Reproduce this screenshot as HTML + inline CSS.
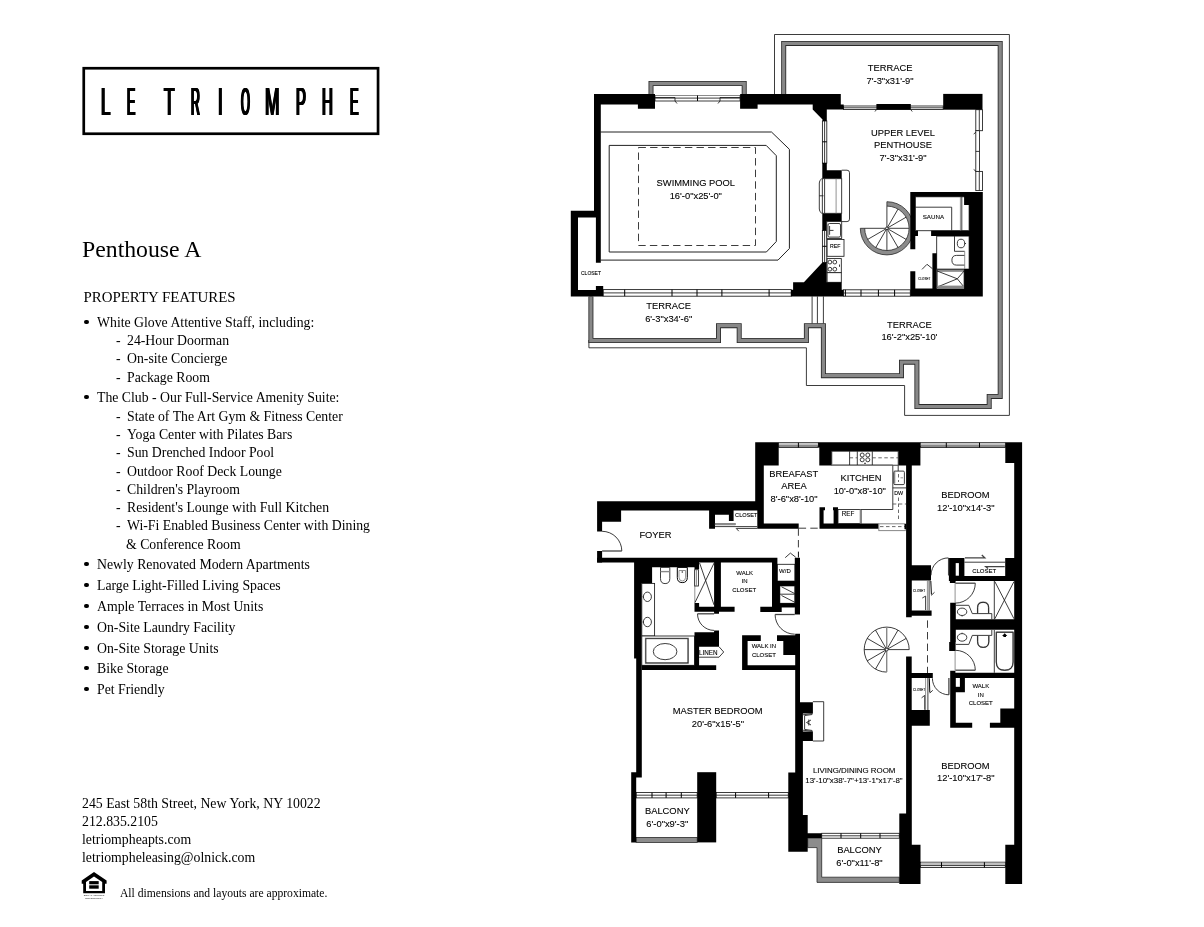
<!DOCTYPE html>
<html lang="en">
<head>
<meta charset="utf-8">
<title>Le Triomphe - Penthouse A</title>
<style>
html,body{margin:0;padding:0;background:#fff;}
body{width:1204px;height:927px;position:relative;overflow:hidden;filter:grayscale(1);font-family:"Liberation Serif",serif;color:#000;}
.abs{position:absolute;white-space:nowrap;}

#logotext span{position:absolute;top:76px;font-family:"Liberation Sans",sans-serif;font-size:39.6px;line-height:50px;height:50px;transform-origin:0 0;white-space:nowrap;}
h1{position:absolute;left:82px;top:234.5px;margin:0;font-weight:normal;font-size:23.75px;line-height:28px;white-space:nowrap;}
h2{position:absolute;left:83.5px;top:288.4px;margin:0;font-weight:normal;font-size:14.9px;line-height:18px;white-space:nowrap;}
ul{list-style:none;margin:0;padding:0;}
#features{position:absolute;left:0;top:0;font-size:13.77px;}
#features li{position:absolute;white-space:nowrap;line-height:18px;height:18px;}
#features li.b{left:97px;}
#features li.b::before{content:"";position:absolute;left:-13px;top:5.6px;width:4.5px;height:4.5px;border-radius:50%;background:#000;}
#features li.s{left:127px;}
#features li.s::before{content:"-";position:absolute;left:-11px;top:0;}
#features li.c{left:126px;}
#addr{position:absolute;left:82px;top:795.4px;font-size:13.8px;line-height:17.7px;white-space:nowrap;}
#note{position:absolute;left:120px;top:886.5px;font-size:11.6px;line-height:14px;white-space:nowrap;}
#plan{position:absolute;left:0;top:0;width:1204px;height:927px;}
#plan .w{fill:#000;}
#plan .wh{fill:#fff;}
#plan .l{fill:none;stroke:#1a1a1a;stroke-width:.85;}
#plan .lk{fill:none;stroke:#000;stroke-width:1;}
#plan .l2{fill:none;stroke:#222;stroke-width:1;}
#plan .lg{fill:none;stroke:#777;stroke-width:.8;}
#plan .lg2{fill:none;stroke:#888;stroke-width:1.4;}
#plan .win{fill:#fff;stroke:#1a1a1a;stroke-width:.85;}
#plan .dash{fill:none;stroke:#1a1a1a;stroke-width:.85;stroke-dasharray:7.4 4.2;}
#plan .ro{fill:none;stroke:#2a2a2a;stroke-linejoin:miter;stroke-linecap:butt;}
#plan .ri{fill:none;stroke:#888;stroke-linejoin:miter;stroke-linecap:butt;}
#plan .rg{fill:#8c8c8c;stroke:#2a2a2a;stroke-width:.8;}
#plan .gb{fill:#c0c0c0;stroke:none;}
#plan .gbar{fill:#999;stroke:#555;stroke-width:.4;}
#plan .wing{fill:#fff;stroke:#888;stroke-width:1;}
#plan .none{fill:none;stroke:none;}
#plan .dl{fill:none;stroke:#444;stroke-width:1.3;}
#plan .dash2{fill:none;stroke:#444;stroke-width:.8;stroke-dasharray:3.5 2.5;}
#plan .t{font-family:"Liberation Sans",sans-serif;fill:#000;stroke:#000;stroke-width:.1;}

</style>
</head>
<body>
<svg id="logo" class="abs" style="left:80px;top:64px" width="302" height="74" viewBox="80 64 302 74"><rect x="83.75" y="68.25" width="294.3" height="65.5" fill="none" stroke="#000" stroke-width="2.7"/></svg>
<div id="logotext" aria-label="LE TRIOMPHE"><span style="left:101.37px;transform:scaleX(0.424);text-shadow:2.01px 0 0 #000,-2.01px 0 0 #000,1.00px 0 0 #000,-1.00px 0 0 #000">L</span><span style="left:127.44px;transform:scaleX(0.312);text-shadow:2.72px 0 0 #000,-2.72px 0 0 #000,1.36px 0 0 #000,-1.36px 0 0 #000">E</span><span style="left:164.47px;transform:scaleX(0.433);text-shadow:1.96px 0 0 #000,-1.96px 0 0 #000,0.98px 0 0 #000,-0.98px 0 0 #000">T</span><span style="left:190.84px;transform:scaleX(0.311);text-shadow:2.73px 0 0 #000,-2.73px 0 0 #000,1.37px 0 0 #000,-1.37px 0 0 #000">R</span><span style="left:218.24px;transform:scaleX(0.420);text-shadow:2.02px 0 0 #000,-2.02px 0 0 #000,1.01px 0 0 #000,-1.01px 0 0 #000">I</span><span style="left:241.01px;transform:scaleX(0.288);text-shadow:2.95px 0 0 #000,-2.95px 0 0 #000,1.47px 0 0 #000,-1.47px 0 0 #000">O</span><span style="left:265.33px;transform:scaleX(0.438);text-shadow:1.94px 0 0 #000,-1.94px 0 0 #000,0.97px 0 0 #000,-0.97px 0 0 #000">M</span><span style="left:295.73px;transform:scaleX(0.375);text-shadow:2.27px 0 0 #000,-2.27px 0 0 #000,1.13px 0 0 #000,-1.13px 0 0 #000">P</span><span style="left:321.62px;transform:scaleX(0.379);text-shadow:2.24px 0 0 #000,-2.24px 0 0 #000,1.12px 0 0 #000,-1.12px 0 0 #000">H</span><span style="left:350.41px;transform:scaleX(0.321);text-shadow:2.64px 0 0 #000,-2.64px 0 0 #000,1.32px 0 0 #000,-1.32px 0 0 #000">E</span></div>
<h1>Penthouse A</h1>
<h2>PROPERTY FEATURES</h2>
<ul id="features">
<li class="b" style="top:314px">White Glove Attentive Staff, including:</li>
<li class="s" style="top:332px">24-Hour Doorman</li>
<li class="s" style="top:350px">On-site Concierge</li>
<li class="s" style="top:369px">Package Room</li>
<li class="b" style="top:389px">The Club - Our Full-Service Amenity Suite:</li>
<li class="s" style="top:408px">State of The Art Gym &amp; Fitness Center</li>
<li class="s" style="top:426px">Yoga Center with Pilates Bars</li>
<li class="s" style="top:444px">Sun Drenched Indoor Pool</li>
<li class="s" style="top:463px">Outdoor Roof Deck Lounge</li>
<li class="s" style="top:481px">Children's Playroom</li>
<li class="s" style="top:499px">Resident's Lounge with Full Kitchen</li>
<li class="s" style="top:517px">Wi-Fi Enabled Business Center with Dining</li>
<li class="c" style="top:536px">&amp; Conference Room</li>
<li class="b" style="top:556px">Newly Renovated Modern Apartments</li>
<li class="b" style="top:577px">Large Light-Filled Living Spaces</li>
<li class="b" style="top:598px">Ample Terraces in Most Units</li>
<li class="b" style="top:619px">On-Site Laundry Facility</li>
<li class="b" style="top:640px">On-Site Storage Units</li>
<li class="b" style="top:660px">Bike Storage</li>
<li class="b" style="top:681px">Pet Friendly</li>
</ul>
<div id="addr">245 East 58th Street, New York, NY 10022<br>212.835.2105<br>letriompheapts.com<br>letriompheleasing@olnick.com</div>
<svg id="eho" class="abs" style="left:78px;top:868px" width="34" height="36" viewBox="78 868 34 36" role="img" aria-label="Equal Housing Opportunity">
<path d="M94 872 L106.6 880.4 V883.8 H105 V893.2 H83.2 V883.8 H81.7 V880.4 Z M94 876.6 L86 881.9 V890.9 H102.2 V881.9 Z" fill="#000" fill-rule="evenodd"/>
<rect x="89.2" y="881.1" width="9.5" height="3.2" fill="#000"/>
<rect x="89.2" y="885.3" width="9.5" height="3.4" fill="#000"/>
<text x="94" y="896.3" font-family="Liberation Sans, sans-serif" font-size="2.5" text-anchor="middle" fill="#222">EQUAL HOUSING</text>
<text x="94" y="899.2" font-family="Liberation Sans, sans-serif" font-size="2.5" text-anchor="middle" fill="#222">OPPORTUNITY</text>
</svg>
<div id="note">All dimensions and layouts are approximate.</div>
<svg id="plan" viewBox="0 0 1204 927">
<!--PLAN-->
<g id="upper">
<path class="l" d="M774.5 94.0 L774.5 34.5 L1009.4 34.5 L1009.4 415.4 L904.6 415.4 L904.6 385.5 L806.4 385.5 L806.4 347.8 L588.9 347.8 L588.9 340.0"/>
<path class="ro" d="M783.7 94.0 L783.7 43.4 L1000.2 43.4 L1000.2 396.4 L989.2 396.4 L989.2 406.6 L916.9 406.6 L916.9 362.2 L901.5 362.2 L901.5 375.7 L823.4 375.7 L823.4 325.7 L806.4 325.7 L806.4 340.5 L739.2 340.5 L739.2 325.7 L718.5 325.7 L718.5 340.5 L590.9 340.5 L590.9 296.5" stroke-width="5.0"/>
<path class="ri" d="M783.7 94.0 L783.7 43.4 L1000.2 43.4 L1000.2 396.4 L989.2 396.4 L989.2 406.6 L916.9 406.6 L916.9 362.2 L901.5 362.2 L901.5 375.7 L823.4 375.7 L823.4 325.7 L806.4 325.7 L806.4 340.5 L739.2 340.5 L739.2 325.7 L718.5 325.7 L718.5 340.5 L590.9 340.5 L590.9 296.5" stroke-width="3.3"/>
<path class="ro" d="M651.0 94.0 L651.0 83.5 L744.2 83.5 L744.2 94.0" stroke-width="5.0"/>
<path class="ri" d="M651.0 94.0 L651.0 83.5 L744.2 83.5 L744.2 94.0" stroke-width="3.3"/>
<line class="l" x1="812.1" y1="296.4" x2="812.1" y2="323.4"/>
<line class="l" x1="817.4" y1="296.4" x2="817.4" y2="323.4"/>
<line class="l" x1="823.4" y1="296.4" x2="823.4" y2="323.4"/>
<path class="l2" d="M600.6 132.0 L771.5 132.0 L789.4 149.3 L789.4 248.5 L778.0 260.1 L600.6 260.1"/>
<path class="l2" d="M609.2 145.4 L766.2 145.4 L776.3 155.7 L776.3 241.5 L766.4 252.0 L609.2 252.0 Z"/>
<rect class="dash" x="638.5" y="147.5" width="117" height="98"/>
<text class="t" x="695.8" y="186.4" font-size="9.35" text-anchor="middle">SWIMMING POOL</text>
<text class="t" x="695.8" y="198.9" font-size="9.35" text-anchor="middle">16'-0&quot;x25'-0&quot;</text>
<rect class="win" x="655.0" y="95.2" width="85.1" height="5.8"/>
<line class="l" x1="655.0" y1="98.1" x2="740.1" y2="98.1"/>
<line class="lk" x1="697.5" y1="95.2" x2="697.5" y2="101.0"/>
<path class="l" d="M655.0 97.5 L675.0 97.5 L675.0 101.0 L677.0 103.5"/>
<path class="l" d="M740.1 97.5 L720.0 97.5 L720.0 101.0 L718.0 103.5"/>
<rect class="win" x="822.4" y="121.0" width="4.4" height="42.1"/>
<line class="l" x1="824.6" y1="121.0" x2="824.6" y2="163.1"/>
<line class="lk" x1="822.4" y1="141.8" x2="826.8" y2="141.8"/>
<rect class="win" x="822.4" y="230.4" width="4.4" height="32.0"/>
<line class="l" x1="824.6" y1="230.4" x2="824.6" y2="262.4"/>
<line class="lk" x1="822.4" y1="246.3" x2="826.8" y2="246.3"/>
<rect class="win" x="603.2" y="289.6" width="188.0" height="6.6"/>
<line class="l" x1="603.2" y1="292.9" x2="791.2" y2="292.9"/>
<line class="lk" x1="624.7" y1="289.6" x2="624.7" y2="296.2"/>
<line class="lk" x1="672.0" y1="289.6" x2="672.0" y2="296.2"/>
<line class="lk" x1="721.9" y1="289.6" x2="721.9" y2="296.2"/>
<line class="lk" x1="769.1" y1="289.6" x2="769.1" y2="296.2"/>
<line class="lk" x1="697.0" y1="289.6" x2="697.0" y2="296.2"/>
<rect class="win" x="843.5" y="289.8" width="66.8" height="6.4"/>
<line class="l" x1="843.5" y1="293.0" x2="910.3" y2="293.0"/>
<line class="lk" x1="845.4" y1="289.8" x2="845.4" y2="296.2"/>
<line class="lk" x1="861.0" y1="289.8" x2="861.0" y2="296.2"/>
<line class="lk" x1="878.4" y1="289.8" x2="878.4" y2="296.2"/>
<line class="lk" x1="894.6" y1="289.8" x2="894.6" y2="296.2"/>
<rect class="win" x="843.5" y="106.0" width="99.7" height="3.5"/>
<line class="l" x1="843.5" y1="107.8" x2="943.2" y2="107.8"/>
<rect class="win" x="975.8" y="109.7" width="6.7" height="21.0"/>
<line class="l" x1="979.3" y1="109.7" x2="979.3" y2="130.7"/>
<rect class="win" x="975.8" y="130.7" width="3.7" height="40.7"/>
<line class="l" x1="975.8" y1="151.4" x2="979.5" y2="151.4"/>
<rect class="win" x="975.8" y="171.4" width="6.7" height="19.2"/>
<line class="l" x1="979.3" y1="171.4" x2="979.3" y2="190.6"/>
<path class="l" d="M973.7 134.0 L976.0 132.2"/>
<path class="l" d="M973.7 169.5 L976.0 171.2"/>
<polygon class="w" points="594.0,93.9 840.8,93.9 840.8,104.4 843.7,104.4 843.7,109.6 826.8,109.6 826.8,121.0 822.5,121.0 822.5,119.6 812.7,109.6 812.7,104.4 757.6,104.4 757.6,108.7 740.1,108.7 740.1,93.9 655.0,93.9 655.0,108.7 637.9,108.7 637.9,104.5 600.8,104.5 600.8,262.8 595.9,262.8 595.9,217.5 578.0,217.5 578.0,290.0 595.9,290.0 595.9,286.0 603.2,286.0 603.2,296.5 570.8,296.5 570.8,210.8 594.0,210.8"/>
<rect class="wh" x="655.0" y="93.9" width="85.1" height="1.3"/>
<polygon class="w" points="822.3,163.1 826.8,163.1 826.8,170.2 841.7,170.2 841.7,178.7 822.3,178.7"/>
<polygon class="w" points="822.3,213.3 841.7,213.3 841.7,221.6 826.8,221.6 826.8,230.4 822.3,230.4"/>
<rect class="win" x="822.3" y="178.7" width="19.4" height="34.6"/>
<line class="l" x1="824.6" y1="178.7" x2="824.6" y2="213.3"/>
<line class="lg" x1="836.1" y1="178.7" x2="836.1" y2="213.3"/>
<path class="l" d="M821.8 178.7 Q819.3 180 819.3 183 L819.3 209 Q819.3 212 821.8 213.3"/>
<line class="l" x1="819.3" y1="195.8" x2="823.5" y2="195.8"/>
<path class="l" d="M841.7 170.2 H847 Q849.5 170.2 849.5 172.7 V219.1 Q849.5 221.6 847 221.6 H841.7"/>
<rect class="win" x="826.8" y="221.6" width="14.9" height="16.8"/>
<rect class="win" x="828" y="223.5" width="12.5" height="13.6" rx="1.5"/>
<path class="l" d="M833.5 230.4 L829.6 230.4"/>
<line class="l" x1="829.6" y1="226.0" x2="829.6" y2="234.8"/>
<rect class="win" x="827.1" y="239.5" width="16.9" height="16.8"/>
<text class="t" x="835.3" y="248.3" font-size="5.20" text-anchor="middle">REF</text>
<rect class="win" x="827.1" y="258.6" width="14.2" height="14.1"/>
<circle class="l" cx="829.9" cy="262.1" r="1.9"/>
<circle class="l" cx="834.8" cy="262.1" r="1.9"/>
<circle class="l" cx="829.9" cy="269.2" r="1.9"/>
<circle class="l" cx="834.8" cy="269.2" r="1.9"/>
<line class="l" x1="839.5" y1="264.5" x2="839.5" y2="266.8"/>
<rect class="win" x="827.1" y="272.7" width="14.2" height="9.6"/>
<polygon class="w" points="791.0,296.4 791.0,289.8 793.1,289.8 793.1,282.3 803.9,282.3 822.4,262.4 826.7,262.4 826.7,282.3 841.7,282.3 841.7,289.8 843.5,289.8 843.5,296.4"/>
<rect class="w" x="876.4" y="104.0" width="34.4" height="5.7"/>
<path class="l" d="M876.4 109.7 L875.0 111.5"/>
<path class="l" d="M910.8 109.7 L912.2 111.5"/>
<rect class="w" x="943.2" y="93.9" width="39.3" height="15.8"/>
<path class="rg" d="M886.9 201.7 A26.6 26.6 0 1 1 860.3 228.3 L864.7 228.3 A22.2 22.2 0 1 0 886.9 206.1 Z"/>
<line class="l" x1="886.9" y1="228.3" x2="886.9" y2="206.1"/>
<line class="l" x1="886.9" y1="228.3" x2="898.0" y2="209.1"/>
<line class="l" x1="886.9" y1="228.3" x2="906.1" y2="217.2"/>
<line class="l" x1="886.9" y1="228.3" x2="909.1" y2="228.3"/>
<line class="l" x1="886.9" y1="228.3" x2="906.1" y2="239.4"/>
<line class="l" x1="886.9" y1="228.3" x2="898.0" y2="247.5"/>
<line class="l" x1="886.9" y1="228.3" x2="886.9" y2="250.5"/>
<line class="l" x1="886.9" y1="228.3" x2="875.8" y2="247.5"/>
<line class="l" x1="886.9" y1="228.3" x2="867.7" y2="239.4"/>
<line class="l" x1="886.9" y1="228.3" x2="864.7" y2="228.3"/>
<circle class="win" cx="886.9" cy="228.3" r="1.3"/>
<rect class="win" x="915.3" y="196.8" width="53.8" height="33.7"/>
<path class="l" d="M915.3 207.2 L951.7 207.2 L951.7 230.5"/>
<line class="lg" x1="960.4" y1="196.8" x2="960.4" y2="230.5"/>
<line class="l" x1="961.8" y1="196.8" x2="961.8" y2="230.5"/>
<text class="t" x="933.4" y="218.7" font-size="6.20" text-anchor="middle">SAUNA</text>
<rect class="win" x="936.7" y="236.1" width="32.4" height="33.0"/>
<path class="l" d="M954.5 236.1 L954.5 251.3 L964.7 251.3"/>
<ellipse class="l" cx="961" cy="243.5" rx="3.7" ry="4.3"/>
<line class="l" x1="964.6" y1="243.5" x2="966.0" y2="243.5"/>
<path class="l" d="M964.7 255.4 H956.5 Q951.9 255.4 951.9 260.2 Q951.9 265.1 956.5 265.1 H964.7"/>
<line class="lg" x1="964.7" y1="251.3" x2="964.7" y2="269.1"/>
<rect class="win" x="937.1" y="269.7" width="27.0" height="17.4"/>
<line class="l" x1="937.1" y1="271.0" x2="964.1" y2="271.0"/>
<line class="l" x1="957.3" y1="278.8" x2="937.1" y2="271.0"/>
<line class="l" x1="957.3" y1="278.8" x2="964.1" y2="271.0"/>
<line class="l" x1="957.3" y1="278.8" x2="937.1" y2="287.1"/>
<line class="l" x1="957.3" y1="278.8" x2="964.1" y2="287.1"/>
<line class="lg2" x1="937.1" y1="286.3" x2="964.1" y2="286.3"/>
<line class="lg" x1="918.0" y1="230.8" x2="931.1" y2="230.8"/>
<path class="l" d="M922.0 269.4 L927.0 264.3 L932.4 268.7"/>
<text class="t" x="924.3" y="279.8" font-size="3.00" text-anchor="middle">CLOSET</text>
<polygon class="w" points="910.3,192.1 982.8,192.1 982.8,296.5 910.3,296.5 910.3,271.3 915.3,271.3 915.3,288.4 932.4,288.4 932.4,253.3 936.7,253.3 936.7,288.4 964.1,288.4 964.1,269.1 969.1,269.1 969.1,236.1 931.1,236.1 931.1,231.1 969.1,231.1 969.1,204.9 964.1,204.9 964.1,196.8 915.3,196.8 915.3,231.1 918.0,231.1 918.0,236.0 915.3,236.0 915.3,249.2 910.3,249.2"/>
<text class="t" x="890.1" y="71.3" font-size="9.35" text-anchor="middle">TERRACE</text>
<text class="t" x="890.1" y="83.8" font-size="9.35" text-anchor="middle">7'-3&quot;x31'-9&quot;</text>
<text class="t" x="903.0" y="136.1" font-size="9.35" text-anchor="middle">UPPER LEVEL</text>
<text class="t" x="903.0" y="148.3" font-size="9.35" text-anchor="middle">PENTHOUSE</text>
<text class="t" x="903.0" y="160.5" font-size="9.35" text-anchor="middle">7'-3&quot;x31'-9&quot;</text>
<text class="t" x="668.7" y="309.4" font-size="9.35" text-anchor="middle">TERRACE</text>
<text class="t" x="668.7" y="322.1" font-size="9.35" text-anchor="middle">6'-3&quot;x34'-6&quot;</text>
<text class="t" x="909.4" y="328.0" font-size="9.35" text-anchor="middle">TERRACE</text>
<text class="t" x="909.4" y="340.4" font-size="9.35" text-anchor="middle">16'-2&quot;x25'-10'</text>
<text class="t" x="591.0" y="274.8" font-size="5.00" text-anchor="middle">CLOSET</text>
</g>
<g id="lower">
<rect class="win" x="778.7" y="442.7" width="39.4" height="4.8"/>
<rect class="gb" x="778.7" y="443.2" width="39.4" height="2.7"/>
<line class="l" x1="778.7" y1="446.1" x2="818.1" y2="446.1"/>
<line class="lk" x1="798.4" y1="442.7" x2="798.4" y2="447.5"/>
<rect class="win" x="920.5" y="442.7" width="84.8" height="4.8"/>
<rect class="gb" x="920.5" y="443.2" width="84.8" height="2.7"/>
<line class="l" x1="920.5" y1="446.1" x2="1005.3" y2="446.1"/>
<line class="lk" x1="946.3" y1="442.7" x2="946.3" y2="447.5"/>
<line class="lk" x1="979.5" y1="442.7" x2="979.5" y2="447.5"/>
<rect class="win" x="636.2" y="792.5" width="61.0" height="5.4"/>
<line class="l" x1="636.2" y1="795.2" x2="697.2" y2="795.2"/>
<line class="lk" x1="652.0" y1="792.5" x2="652.0" y2="797.9"/>
<line class="lk" x1="666.1" y1="792.5" x2="666.1" y2="797.9"/>
<line class="lk" x1="681.3" y1="792.5" x2="681.3" y2="797.9"/>
<rect class="win" x="716.2" y="792.5" width="72.1" height="5.4"/>
<line class="l" x1="716.2" y1="795.2" x2="788.3" y2="795.2"/>
<line class="lk" x1="735.6" y1="792.5" x2="735.6" y2="797.9"/>
<line class="lk" x1="768.6" y1="792.5" x2="768.6" y2="797.9"/>
<rect class="win" x="821.7" y="833.3" width="77.6" height="4.9"/>
<line class="l" x1="821.7" y1="835.8" x2="899.3" y2="835.8"/>
<line class="lk" x1="841.0" y1="833.3" x2="841.0" y2="838.2"/>
<line class="lk" x1="860.7" y1="833.3" x2="860.7" y2="838.2"/>
<line class="lk" x1="880.0" y1="833.3" x2="880.0" y2="838.2"/>
<rect class="win" x="920.5" y="862.2" width="84.8" height="5.3"/>
<rect class="gb" x="920.5" y="862.7" width="84.8" height="2.7"/>
<line class="l" x1="920.5" y1="865.6" x2="1005.3" y2="865.6"/>
<line class="lk" x1="941.5" y1="862.2" x2="941.5" y2="867.5"/>
<line class="lk" x1="984.4" y1="862.2" x2="984.4" y2="867.5"/>
<rect class="rg" x="636.2" y="837.4" width="61.0" height="5.0"/>
<polygon class="rg" points="807.7,838.0 821.7,838.0 821.7,877.2 899.3,877.2 899.3,882.4 817.0,882.4 817.0,847.6 807.7,847.6"/>
<polygon class="w" points="597.1,501.3 755.2,501.3 755.2,442.2 778.7,442.2 778.7,465.5 763.8,465.5 763.8,523.5 798.7,523.5 798.7,528.7 757.3,528.7 757.3,510.6 733.6,510.6 733.6,521.0 728.9,521.0 728.9,514.7 715.0,514.7 715.0,528.7 709.1,528.7 709.1,510.6 621.1,510.6 621.1,521.8 602.1,521.8 602.1,531.4 597.1,531.4"/>
<rect class="w" x="597.1" y="551.0" width="5.0" height="11.5"/>
<path class="l" d="M621.8 551.0 A19.7 19.7 0 0 0 602.1 531.3"/>
<line class="dl" x1="602.1" y1="551.0" x2="621.8" y2="551.0"/>
<text class="t" x="655.5" y="537.8" font-size="9.35" text-anchor="middle">FOYER</text>
<rect class="gbar" x="715.0" y="523.2" width="20.5" height="1.8"/>
<line class="l" x1="715.0" y1="526.6" x2="757.3" y2="526.6"/>
<line class="l" x1="736.5" y1="528.4" x2="757.3" y2="528.4"/>
<path class="l" d="M736.0 528.2 L738.8 531.2"/>
<text class="t" x="746.3" y="516.7" font-size="5.60" text-anchor="middle">CLOSET</text>
<polygon class="w" points="597.1,557.7 777.4,557.7 777.4,581.1 794.8,581.1 794.8,557.7 800.0,557.7 800.0,614.5 794.8,614.5 794.8,607.3 781.7,607.3 781.7,611.9 760.3,611.9 760.3,606.7 772.0,606.7 772.0,562.5 720.9,562.5 720.9,606.7 734.6,606.7 734.6,611.7 719.0,611.7 719.0,613.8 714.1,613.8 714.1,611.7 694.5,611.7 694.5,602.9 699.1,602.9 699.1,606.7 714.1,606.7 714.1,562.5 699.1,562.5 699.1,569.3 694.5,569.3 694.5,567.2 652.1,567.2 652.1,583.4 641.8,583.4 641.8,777.6 636.2,777.6 636.2,842.4 631.2,842.4 631.2,772.2 636.2,772.2 636.2,658.4 634.1,658.4 634.1,562.5 597.1,562.5"/>
<rect class="win" x="777.4" y="564.3" width="17.4" height="16.8"/>
<text class="t" x="784.9" y="572.7" font-size="6.00" text-anchor="middle">W/D</text>
<rect class="win" x="779.8" y="585.9" width="15.0" height="17.4"/>
<line class="l" x1="779.8" y1="594.2" x2="794.8" y2="594.2"/>
<line class="l" x1="781.5" y1="586.8" x2="794.8" y2="593.6"/>
<line class="l" x1="781.5" y1="595.5" x2="794.8" y2="602.3"/>
<rect class="w" x="777.4" y="581.1" width="17.4" height="4.8"/>
<rect class="w" x="777.4" y="603.3" width="17.4" height="4.0"/>
<rect class="w" x="772.0" y="581.1" width="7.8" height="25.6"/>
<path class="l" d="M785.2 557.7 L790.4 553.1 L795.7 557.2"/>
<line class="l" x1="798.5" y1="551.9" x2="798.5" y2="557.6"/>
<path class="l" d="M697.5 613.8 A16.6 16.6 0 0 0 714.1 630.4"/>
<line class="dl" x1="714.1" y1="613.8" x2="697.5" y2="613.8"/>
<path class="l" d="M775.1 614.5 A19.7 19.7 0 0 0 794.8 634.2"/>
<line class="dl" x1="794.8" y1="614.5" x2="775.1" y2="614.5"/>
<rect class="win" x="641.8" y="583.4" width="12.8" height="52.6"/>
<ellipse class="l" cx="647.4" cy="596.8" rx="4" ry="4.7"/>
<line class="l" x1="642.6" y1="596.8" x2="643.8" y2="596.8"/>
<ellipse class="l" cx="647.4" cy="622.0" rx="4" ry="4.7"/>
<line class="l" x1="642.6" y1="622.0" x2="643.8" y2="622.0"/>
<path class="win" d="M660.5 567.4 H669.8 V578.5 Q669.8 583.6 665.1 583.6 Q660.5 583.6 660.5 578.5 Z"/>
<line class="lg2" x1="660.5" y1="571.6" x2="669.8" y2="571.6"/>
<path class="lk" d="M677.3 567.4 H687.3 V577.5 Q687.3 582.6 682.3 582.6 Q677.3 582.6 677.3 577.5 Z"/>
<path class="lg" d="M679 570.5 H685.6 V577.2 Q685.6 581 682.3 581 Q679 581 679 577.2 Z"/>
<circle cx="682.3" cy="572" r="0.8" fill="#333"/>
<rect class="none" x="694.5" y="562.5" width="19.6" height="44.2"/>
<line class="lg" x1="694.8" y1="569.3" x2="694.8" y2="602.9"/>
<line class="l" x1="699.6" y1="563.0" x2="714.1" y2="605.0"/>
<line class="l" x1="714.1" y1="563.0" x2="695.0" y2="602.5"/>
<rect class="win" x="694.7" y="569.7" width="3.7" height="16.3"/>
<line class="lg" x1="696.5" y1="569.7" x2="696.5" y2="586.0"/>
<text class="t" x="744.6" y="575.1" font-size="6.00" text-anchor="middle">WALK</text>
<text class="t" x="744.6" y="583.2" font-size="6.00" text-anchor="middle">IN</text>
<text class="t" x="744.2" y="591.7" font-size="6.00" text-anchor="middle">CLOSET</text>
<rect class="win" x="641.8" y="636.0" width="52.7" height="29.3"/>
<rect class="lg" x="645.3" y="638.1" width="43.2" height="25.3"/>
<rect class="l" x="645.9" y="638.7" width="42.0" height="24.1"/>
<ellipse class="l" cx="665.1" cy="651.6" rx="11.8" ry="8.1"/>
<polygon class="w" points="694.5,632.2 714.1,632.2 714.1,630.4 719.0,630.4 719.0,646.7 699.1,646.7 699.1,665.3 716.2,665.3 716.2,670.1 641.8,670.1 641.8,665.3 694.5,665.3"/>
<path class="l" d="M719.0 646.7 L723.7 652.0 L719.0 657.2 L699.1 657.2"/>
<text class="t" x="708.3" y="654.8" font-size="6.30" text-anchor="middle">LINEN</text>
<polygon class="w" points="742.1,635.2 760.8,635.2 760.8,641.0 747.6,641.0 747.6,665.3 795.2,665.3 795.2,654.9 783.3,654.9 783.3,641.0 777.0,641.0 777.0,635.2 795.2,635.2 795.2,633.7 800.0,633.7 800.0,702.3 812.9,702.3 812.9,713.5 802.9,713.5 802.9,731.5 812.9,731.5 812.9,741.0 802.9,741.0 802.9,815.0 807.7,815.0 807.7,833.2 821.7,833.2 821.7,838.0 807.7,838.0 807.7,851.7 788.3,851.7 788.3,772.4 795.2,772.4 795.2,670.1 742.1,670.1"/>
<text class="t" x="763.9" y="648.4" font-size="6.00" text-anchor="middle">WALK IN</text>
<text class="t" x="763.9" y="656.5" font-size="6.00" text-anchor="middle">CLOSET</text>
<path class="l" d="M812.9 701.7 L823.7 701.7 L823.7 741.0 L812.9 741.0"/>
<path class="l" d="M802.9 714.8 L812.5 713.6"/>
<path class="l" d="M802.9 730.2 L812.5 731.4"/>
<path class="l" d="M812.3 714.5 L804.6 715.6 L804.6 729.4 L812.3 730.5"/>
<path class="l" d="M811.0 720.0 L806.5 722.5 L811.0 725.0"/>
<line class="l" x1="808.8" y1="719.5" x2="808.8" y2="725.5"/>
<rect class="w" x="697.2" y="772.2" width="19.0" height="70.2"/>
<text class="t" x="717.6" y="713.9" font-size="9.35" text-anchor="middle">MASTER BEDROOM</text>
<text class="t" x="717.9" y="726.6" font-size="9.35" text-anchor="middle">20'-6&quot;x15'-5&quot;</text>
<text class="t" x="667.3" y="814.0" font-size="9.35" text-anchor="middle">BALCONY</text>
<text class="t" x="667.3" y="826.7" font-size="9.35" text-anchor="middle">6'-0&quot;x9'-3&quot;</text>
<text class="t" x="859.5" y="853.0" font-size="9.35" text-anchor="middle">BALCONY</text>
<text class="t" x="859.5" y="866.1" font-size="9.35" text-anchor="middle">6'-0&quot;x11'-8&quot;</text>
<text class="t" x="854.2" y="772.8" font-size="7.90" text-anchor="middle">LIVING/DINING ROOM</text>
<text class="t" x="854.0" y="783.2" font-size="7.90" text-anchor="middle">13'-10&quot;x38'-7&quot;+13'-1&quot;x17'-8&quot;</text>
<polygon class="w" points="818.1,442.2 920.4,442.2 920.4,465.5 911.8,465.5 911.8,565.2 931.0,565.2 931.0,580.5 911.8,580.5 911.8,610.4 931.6,610.4 931.6,615.8 911.7,615.8 911.7,617.3 906.1,617.3 906.1,465.5 898.2,465.5 898.2,451.2 831.8,451.2 831.8,465.5 819.3,465.5 819.3,447.5 818.1,447.5"/>
<rect class="win" x="831.8" y="451.2" width="66.4" height="14.0"/>
<line class="lg2" x1="831.8" y1="464.9" x2="892.8" y2="464.9"/>
<line class="l" x1="849.6" y1="451.2" x2="849.6" y2="465.0"/>
<line class="l" x1="857.3" y1="451.2" x2="857.3" y2="465.0"/>
<line class="l" x1="872.3" y1="451.2" x2="872.3" y2="465.0"/>
<circle class="l" cx="862.2" cy="455.0" r="2"/>
<circle class="l" cx="867.8" cy="455.0" r="2"/>
<circle class="l" cx="862.2" cy="459.8" r="2"/>
<circle class="l" cx="867.8" cy="459.8" r="2"/>
<line class="l" x1="864.0" y1="463.3" x2="866.0" y2="463.3"/>
<line class="dash2" x1="849.6" y1="457.8" x2="857.3" y2="457.8"/>
<line class="dash2" x1="872.3" y1="457.8" x2="898.2" y2="457.8"/>
<path class="l" d="M892.8 465.5 L892.8 509.5 L861.1 509.5"/>
<line class="l" x1="898.2" y1="465.5" x2="898.2" y2="471.0"/>
<rect class="win" x="893.7" y="471.1" width="10.7" height="13.5" rx="1.2"/>
<line class="lg2" x1="894.6" y1="472.0" x2="894.6" y2="483.7"/>
<line class="dash2" x1="898.5" y1="474" x2="898.5" y2="482"/>
<line class="lg" x1="900.5" y1="477.8" x2="903.0" y2="477.8"/>
<path class="l" d="M892.8 487.9 L906.1 487.9"/>
<text class="t" x="898.7" y="495.3" font-size="5.40" text-anchor="middle">DW</text>
<line class="dash2" x1="892.8" y1="504" x2="906.1" y2="504"/>
<line class="dash2" x1="898.5" y1="497.5" x2="898.5" y2="519"/>
<polygon class="w" points="819.5,507.3 825.0,507.3 825.0,510.2 823.6,510.2 823.6,523.5 833.6,523.5 833.6,510.2 833.0,510.2 833.0,507.3 838.0,507.3 838.0,523.5 878.8,523.5 878.8,528.7 819.5,528.7"/>
<rect class="win" x="838.0" y="509.5" width="23.1" height="14.0"/>
<line class="lg2" x1="860.4" y1="509.5" x2="860.4" y2="523.5"/>
<text class="t" x="848.0" y="515.7" font-size="6.30" text-anchor="middle">REF</text>
<rect class="wing" x="878.8" y="523.8" width="26.5" height="6.8"/>
<line class="dash2" x1="880" y1="526.6" x2="905" y2="526.6"/>
<rect class="w" x="904.5" y="524.0" width="2.0" height="5.0"/>
<line class="dash" x1="798.7" y1="528.2" x2="819.3" y2="528.2"/>
<line class="dash" x1="798.4" y1="528.4" x2="798.4" y2="557"/>
<line class="dash" x1="927.5" y1="620.4" x2="927.5" y2="673"/>
<text class="t" x="793.7" y="476.8" font-size="9.35" text-anchor="middle">BREAFAST</text>
<text class="t" x="794.1" y="489.0" font-size="9.35" text-anchor="middle">AREA</text>
<text class="t" x="794.1" y="501.7" font-size="9.35" text-anchor="middle">8'-6&quot;x8'-10&quot;</text>
<text class="t" x="861.1" y="480.9" font-size="9.35" text-anchor="middle">KITCHEN</text>
<text class="t" x="859.8" y="493.6" font-size="9.35" text-anchor="middle">10'-0&quot;x8'-10&quot;</text>
<text class="t" x="965.4" y="497.7" font-size="9.35" text-anchor="middle">BEDROOM</text>
<text class="t" x="965.8" y="510.5" font-size="9.35" text-anchor="middle">12'-10&quot;x14'-3&quot;</text>
<text class="t" x="965.4" y="768.9" font-size="9.35" text-anchor="middle">BEDROOM</text>
<text class="t" x="965.8" y="781.4" font-size="9.35" text-anchor="middle">12'-10&quot;x17'-8&quot;</text>
<polygon class="w" points="1005.3,442.2 1022.1,442.2 1022.1,884.1 1005.3,884.1 1005.3,844.8 1014.2,844.8 1014.2,727.8 989.9,727.8 989.9,722.8 1000.3,722.8 1000.3,708.5 1014.2,708.5 1014.2,677.9 964.9,677.9 964.9,692.2 955.8,692.2 955.8,722.8 972.2,722.8 972.2,727.8 950.2,727.8 950.2,670.8 955.4,670.8 955.4,672.8 1014.2,672.8 1014.2,629.8 955.8,629.8 955.8,641.9 955.6,641.9 955.6,650.9 949.2,650.9 949.2,641.9 950.2,641.9 950.2,602.8 955.8,602.8 955.8,619.2 1014.2,619.2 1014.2,580.9 955.6,580.9 955.6,583.0 949.9,583.0 949.9,580.9 948.9,580.9 948.9,557.9 964.4,557.9 964.4,575.9 1005.2,575.9 1005.2,557.9 1014.2,557.9 1014.2,463.0 1005.3,463.0"/>
<rect class="wh" x="955.7" y="563.1" width="3.2" height="12.6"/>
<rect class="wh" x="955.8" y="678.0" width="4.1" height="8.8"/>
<line class="l" x1="964.4" y1="562.2" x2="1005.2" y2="562.2"/>
<path class="dl" d="M964.9 557.9 L984.8 557.9 L981.8 555.0"/>
<path class="dl" d="M1004.7 566.7 L985.8 566.7 L988.0 568.5"/>
<text class="t" x="984.2" y="572.6" font-size="6.00" text-anchor="middle">CLOSET</text>
<line class="dl" x1="948.6" y1="558.0" x2="948.6" y2="575.5"/>
<path class="l" d="M948.4 557.9 A17.4 17.4 0 0 0 931 575.3"/>
<line class="l" x1="929.1" y1="580.5" x2="929.1" y2="610.4"/>
<line class="lg" x1="927.4" y1="580.5" x2="927.4" y2="610.4"/>
<path class="lk" d="M930.8 581.0 L931.4 594.5"/>
<path class="l" d="M931.2 595.4 L934.5 592.3"/>
<path class="l" d="M922.3 598.0 L925.6 596.1 L925.6 610.0"/>
<text class="t" x="919.1" y="592.1" font-size="3.00" text-anchor="middle">CLOSET</text>
<line class="lg" x1="955.1" y1="583.0" x2="955.1" y2="602.8"/>
<path class="l" d="M975.3 583.2 A19.9 19.9 0 0 1 955.4 603.1"/>
<line class="dl" x1="955.4" y1="583.2" x2="975.3" y2="583.2"/>
<path class="l" d="M955.7 605.3 L968.8 605.3 L972.3 613.6 L991.8 613.6 L991.8 619.2"/>
<ellipse class="l" cx="962.1" cy="611.8" rx="4.7" ry="3.7"/>
<line class="l" x1="962.1" y1="615.5" x2="962.1" y2="616.5"/>
<path class="lg2" d="M977.6 613.6 V607.5 Q977.6 602.3 983.1 602.3 Q988.6 602.3 988.6 607.5 V613.6"/>
<path class="l" d="M977.6 613.6 V607.5 Q977.6 602.3 983.1 602.3 Q988.6 602.3 988.6 607.5 V613.6"/>
<line class="l" x1="994.3" y1="580.9" x2="994.3" y2="619.2"/>
<line class="l" x1="994.8" y1="581.5" x2="1014.0" y2="618.8"/>
<line class="l" x1="1014.0" y1="581.5" x2="994.8" y2="618.8"/>
<path class="l" d="M955.7 644.4 L968.8 644.4 L972.3 635.4 L991.8 635.4 L991.8 630.0"/>
<ellipse class="l" cx="962.1" cy="637.4" rx="4.7" ry="3.8"/>
<line class="l" x1="962.1" y1="632.7" x2="962.1" y2="633.7"/>
<path class="lg2" d="M977.6 635.4 V641.5 Q977.6 647.4 983.2 647.4 Q988.8 647.4 988.8 641.5 V635.4"/>
<path class="l" d="M977.6 635.4 V641.5 Q977.6 647.4 983.2 647.4 Q988.8 647.4 988.8 641.5 V635.4"/>
<line class="l" x1="994.3" y1="630.0" x2="994.3" y2="672.8"/>
<path class="lg2" d="M996.3 632.2 H1013.1 V662 Q1013.1 670.3 1004.7 670.3 Q996.3 670.3 996.3 662 Z"/>
<path class="l" d="M996.3 632.2 H1013.1 V662 Q1013.1 670.3 1004.7 670.3 Q996.3 670.3 996.3 662 Z"/>
<polygon class="w" points="1004.7,633.3 1007.3,636.0 1002.1,636.0"/>
<rect class="w" x="1003.4" y="636.0" width="2.6" height="1.0"/>
<line class="lg" x1="955.1" y1="650.9" x2="955.1" y2="670.5"/>
<path class="l" d="M975.3 670.2 A19.9 19.9 0 0 0 955.4 650.3"/>
<line class="dl" x1="955.4" y1="670.2" x2="975.3" y2="670.2"/>
<line class="dl" x1="948.9" y1="678.0" x2="948.9" y2="694.8"/>
<path class="l" d="M932.4 678.3 A16.5 16.5 0 0 0 948.9 694.8"/>
<text class="t" x="980.8" y="688.2" font-size="6.00" text-anchor="middle">WALK</text>
<text class="t" x="980.8" y="696.6" font-size="6.00" text-anchor="middle">IN</text>
<text class="t" x="980.8" y="704.7" font-size="6.00" text-anchor="middle">CLOSET</text>
<polygon class="w" points="906.1,656.6 911.7,656.6 911.7,673.0 932.8,673.0 932.8,678.0 911.7,678.0 911.7,710.0 929.8,710.0 929.8,725.8 911.8,725.8 911.8,844.8 920.5,844.8 920.5,884.1 899.3,884.1 899.3,813.5 906.1,813.5"/>
<line class="l" x1="927.9" y1="678.0" x2="927.9" y2="710.0"/>
<line class="lg" x1="925.6" y1="678.0" x2="925.6" y2="710.0"/>
<path class="lk" d="M929.3 678.2 L929.8 692.5"/>
<path class="l" d="M929.8 693.0 L932.8 690.3"/>
<path class="l" d="M921.6 697.8 L924.7 695.4 L924.7 709.8"/>
<text class="t" x="919.1" y="690.8" font-size="3.00" text-anchor="middle">CLOSET</text>
<path class="l" d="M909.2 649.6 A22.5 22.5 0 1 0 886.7 672.1"/>
<line class="l" x1="886.7" y1="649.6" x2="909.2" y2="649.6"/>
<line class="l" x1="886.7" y1="649.6" x2="906.2" y2="638.4"/>
<line class="l" x1="886.7" y1="649.6" x2="898.0" y2="630.1"/>
<line class="l" x1="886.7" y1="649.6" x2="875.5" y2="630.1"/>
<line class="l" x1="886.7" y1="649.6" x2="867.2" y2="638.4"/>
<line class="l" x1="886.7" y1="649.6" x2="864.2" y2="649.6"/>
<line class="l" x1="886.7" y1="649.6" x2="867.2" y2="660.9"/>
<line class="l" x1="886.7" y1="649.6" x2="875.5" y2="669.1"/>
<line class="lg2" x1="886.7" y1="627.1" x2="886.7" y2="672.1"/>
<circle class="win" cx="886.7" cy="649.6" r="1.4"/>
</g>
<!--/PLAN-->
</svg>
</body>
</html>
